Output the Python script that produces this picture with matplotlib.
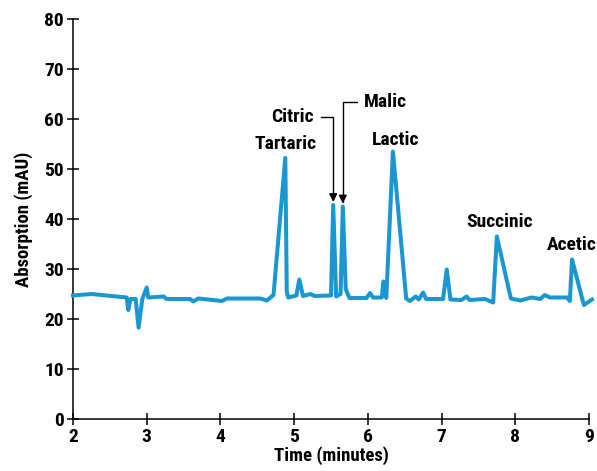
import matplotlib
matplotlib.use("Agg")
import matplotlib.pyplot as plt

# chromatogram trace
time_min = [2.00, 2.25, 2.73, 2.75, 2.78, 2.85, 2.89, 2.94, 3.00, 3.02,
            3.23, 3.27, 3.59, 3.63, 3.70, 4.02, 4.09, 4.54, 4.63, 4.72,
            4.88, 4.90, 4.92, 5.03, 5.07, 5.12, 5.22, 5.28, 5.50, 5.53,
            5.57, 5.63, 5.66, 5.70, 5.75, 5.98, 6.03, 6.07, 6.19, 6.21,
            6.25, 6.34, 6.52, 6.57, 6.65, 6.69, 6.75, 6.79, 7.02, 7.07,
            7.12, 7.27, 7.34, 7.38, 7.59, 7.70, 7.75, 7.94, 8.07, 8.22,
            8.34, 8.40, 8.47, 8.70, 8.74, 8.77, 8.93, 9.04]
absorption = [24.7, 25.0, 24.3, 21.8, 24.0, 24.0, 18.3, 24.0, 26.3, 24.3,
              24.5, 24.0, 24.0, 23.5, 24.1, 23.6, 24.1, 24.1, 23.7, 24.8,
              52.2, 25.5, 24.3, 24.7, 27.9, 24.6, 25.0, 24.6, 24.7, 42.8,
              24.5, 25.0, 42.5, 26.0, 24.2, 24.2, 25.2, 24.3, 24.3, 27.5,
              24.2, 53.5, 24.1, 23.6, 24.5, 23.9, 25.3, 24.0, 24.0, 29.9,
              23.9, 23.8, 24.5, 23.8, 24.0, 23.3, 36.5, 24.1, 23.7, 24.3,
              24.0, 24.8, 24.3, 24.3, 23.6, 31.9, 22.8, 23.9]

# plain peak labels: (name, label time, label height)
peak_labels = [("Tartaric", 4.88, 55.0), ("Lactic", 6.38, 55.8),
               ("Succinic", 7.78, 39.4), ("Acetic", 8.77, 34.8)]
# arrowed labels: (name, peak time, peak height, label time, label height)
arrow_labels = [("Citric", 5.53, 42.8, 5.27, 60.4),
                ("Malic", 5.66, 42.5, 5.95, 63.4)]

x_ticks = [2, 3, 4, 5, 6, 7, 8, 9]
y_ticks = [0, 10, 20, 30, 40, 50, 60, 70, 80]

plt.rcParams["font.family"] = ["Roboto Condensed", "DejaVu Sans"]
plt.rcParams["font.weight"] = "bold"

fig = plt.figure(figsize=(5.97, 4.71), dpi=100)
ax = fig.add_axes([73 / 597, 1 - 419 / 471, 516 / 597, 400 / 471])

ax.plot(time_min, absorption, color="#1a96d2", linewidth=2.9,
        solid_joinstyle="round", clip_on=False, zorder=3)

for name, t, h in peak_labels:
    ax.text(t, h, name, ha="center", va="center", fontsize=14,
            fontweight="bold")

for name, t, h, tx, ty in arrow_labels:
    ax.annotate(name, xy=(t, h + 0.6), xytext=(tx, ty),
                ha="right" if tx < t else "left", va="center",
                fontsize=14, fontweight="bold",
                arrowprops=dict(arrowstyle="-|>", color="black", lw=1.0,
                                mutation_scale=12, shrinkA=3, shrinkB=0,
                                connectionstyle="angle,angleA=0,angleB=90,rad=0"))

ax.set_xlim(2, 9)
ax.set_ylim(0, 80)
ax.set_xticks(x_ticks)
ax.set_yticks(y_ticks)
ax.spines["top"].set_visible(False)
ax.spines["right"].set_visible(False)
for side in ("left", "bottom"):
    ax.spines[side].set_linewidth(1.1)
ax.tick_params(direction="inout", length=9, width=1.1, labelsize=14)
ax.tick_params(axis="x", pad=2)
ax.tick_params(axis="y", pad=2)
for lbl in ax.get_xticklabels() + ax.get_yticklabels():
    lbl.set_fontweight("bold")

ax.set_xlabel("Time (minutes)", fontsize=13.5, fontweight="bold", labelpad=0)
ax.set_ylabel("Absorption (mAU)", fontsize=13.5, fontweight="bold", labelpad=8)

fig.savefig("out.png", dpi=100)
